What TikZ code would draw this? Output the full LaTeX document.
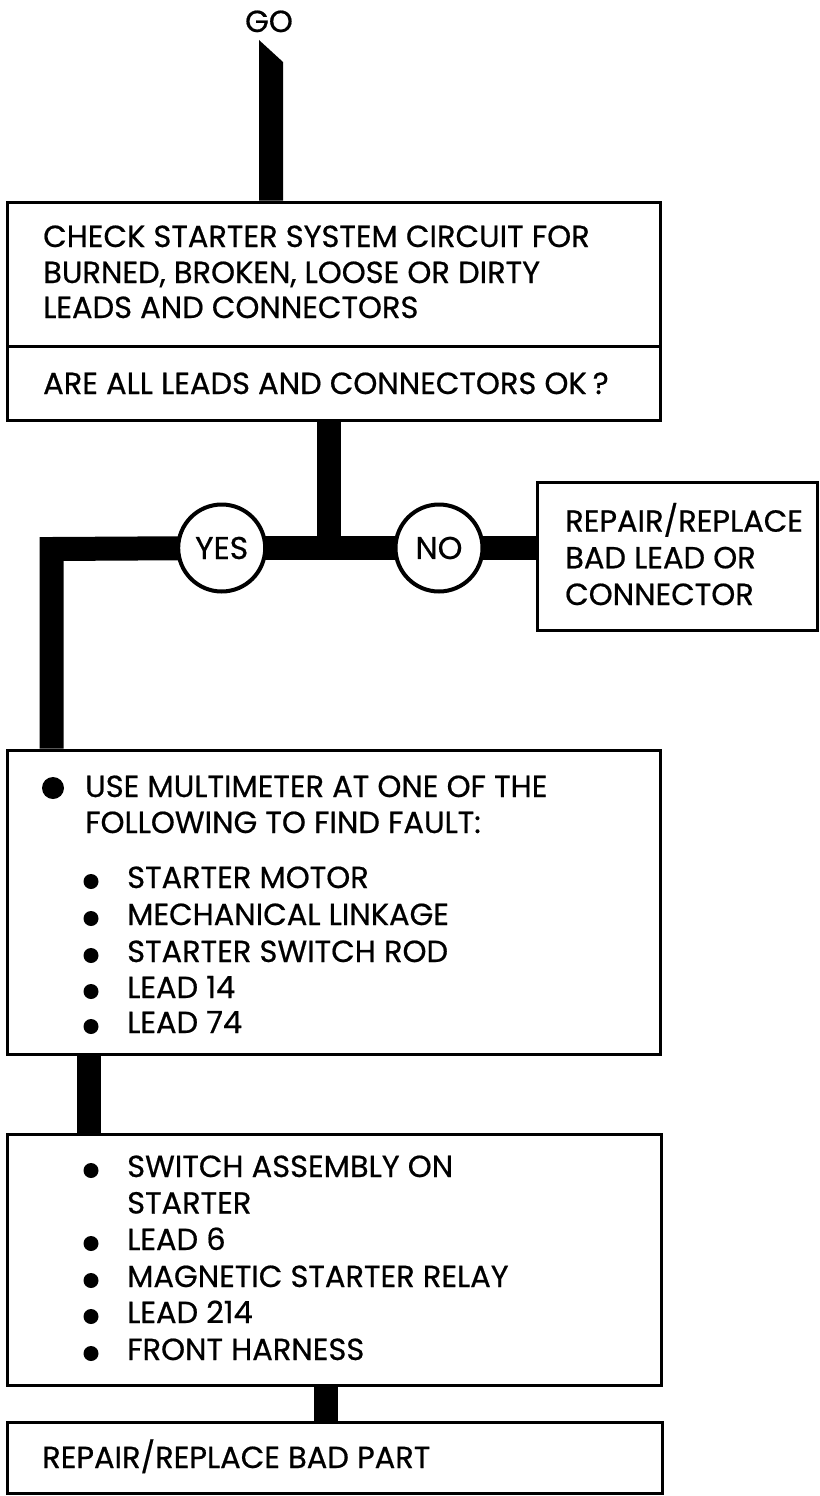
\documentclass[tikz,border=0pt]{standalone}
\usepackage{fontspec}
\setmainfont{Poppins}[FakeBold=0.6]
\usetikzlibrary{calc}
\pgfdeclarelayer{bg}
\pgfsetlayers{bg,main}
\begin{document}
\begin{tikzpicture}[x=1pt,y=-1pt,
  box/.style={draw, line width=3pt, inner sep=0pt},
  txt/.style={anchor=base west, inner sep=0pt, font=\fontsize{30.5}{36}\selectfont},
  dec/.style={circle, draw, line width=4pt, fill=white, minimum size=87pt, inner sep=0pt, font=\fontsize{31.5}{36}\selectfont},
  flow/.style={line width=24pt, line join=miter},
  dot/.style={circle, fill, inner sep=0pt, minimum size=15pt},
  bigdot/.style={circle, fill, inner sep=0pt, minimum size=22pt}
]
\useasboundingbox (0,0) rectangle (819,1496);

% boxes
\node[box, minimum width=652.5pt, minimum height=144pt] (b1a) at (333.75,274) {};
\node[box, minimum width=652.5pt, minimum height=74pt] (b1b) at (333.75,383) {};
\node[box, minimum width=280.5pt, minimum height=148pt] (nobox) at (677.25,556) {};
\node[box, minimum width=653pt, minimum height=304pt] (b2) at (333.5,902) {};
\node[box, minimum width=654pt, minimum height=251pt] (b3) at (334,1259.5) {};
\node[box, minimum width=655pt, minimum height=71pt] (b4) at (334.5,1457.5) {};

% decisions
\node[dec] (yes) at (221.7,548) {YES};
\node[dec] (no) at (439,548) {NO};

% texts
\node[txt, anchor=base] (go) at (269,32) {GO};
\node[txt] (t1) at (43,247) {CHECK STARTER SYSTEM CIRCUIT FOR};
\node[txt] (t2) at (43,283) {BURNED, BROKEN, LOOSE OR DIRTY};
\node[txt] (t3) at (43,318) {LEADS AND CONNECTORS};
\node[txt] (t4) at (43,394) {ARE ALL LEADS AND CONNECTORS OK\kern6pt?};

\node[txt] (n1) at (565,531.7) {REPAIR/REPLACE};
\node[txt] (n2) at (565,568.3) {BAD LEAD OR};
\node[txt] (n3) at (565,605) {CONNECTOR};

\node[bigdot] (bd) at (53,788) {};
\node[txt] (u1) at (85,797) {USE MULTIMETER AT ONE OF THE};
\node[txt] (u2) at (85,833) {FOLLOWING TO FIND FAULT:};

\node[dot] (d1) at (91,881.5) {};
\node[txt] (i1) at (127,888) {STARTER MOTOR};
\node[dot] (d2) at (91,918.5) {};
\node[txt] (i2) at (127,925) {MECHANICAL LINKAGE};
\node[dot] (d3) at (91,955.5) {};
\node[txt] (i3) at (127,962) {STARTER SWITCH ROD};
\node[dot] (d4) at (91,991.5) {};
\node[txt] (i4) at (127,998) {LEAD 14};
\node[dot] (d5) at (91,1026.5) {};
\node[txt] (i5) at (127,1033) {LEAD 74};

\node[dot] (e1) at (91,1170.5) {};
\node[txt] (j1) at (127,1177) {SWITCH ASSEMBLY ON};
\node[txt] (j1b) at (127,1213.5) {STARTER};
\node[dot] (e2) at (91,1243.5) {};
\node[txt] (j2) at (127,1250) {LEAD 6};
\node[dot] (e3) at (91,1280.5) {};
\node[txt] (j3) at (127,1287) {MAGNETIC STARTER RELAY};
\node[dot] (e4) at (91,1316.5) {};
\node[txt] (j4) at (127,1323) {LEAD 214};
\node[dot] (e5) at (91,1353.5) {};
\node[txt] (j5) at (127,1360) {FRONT HARNESS};

\node[txt] (r1) at (42,1468) {REPAIR/REPLACE BAD PART};

% connectors
\coordinate (gotip) at (259,40);
\coordinate (goR) at (283,62);
\coordinate (junc) at (329,549);
\coordinate (corner) at (51.7,549);
\coordinate (s2) at (88.5,0);
\coordinate (s3) at (326,0);

\begin{pgfonlayer}{bg}
\fill (gotip) -- (goR) -- (goR |- b1a.north) -- (gotip |- b1a.north) -- cycle;
\draw[flow] (b1b.south -| junc) -- (junc);
\draw[flow] (b2.north -| corner) -- (corner) -- (yes.center);
\draw[flow] (yes.center) -- (no.center);
\draw[flow] (no.center) -- (nobox.west |- no.center);
\draw[flow] (b2.south -| s2) -- (b3.north -| s2);
\draw[flow] (b3.south -| s3) -- (b4.north -| s3);
\end{pgfonlayer}
\end{tikzpicture}
\end{document}
